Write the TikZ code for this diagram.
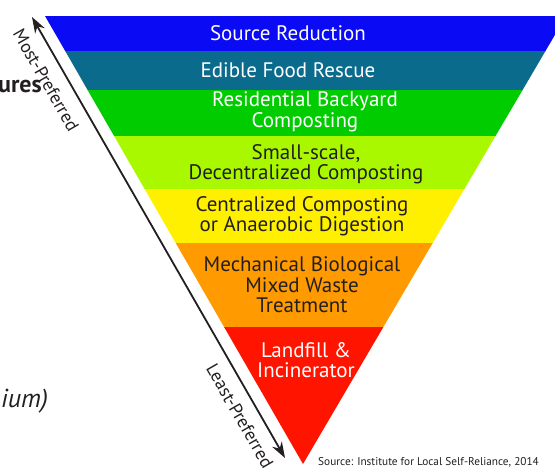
\documentclass[tikz,border=0pt]{standalone}
\usepackage{fontspec}
\setmainfont{PT Sans}
\usetikzlibrary{arrows.meta}
\definecolor{cBlue}{HTML}{0A0AF5}
\definecolor{cTeal}{HTML}{0B6B8C}
\definecolor{cGreen}{HTML}{00CC00}
\definecolor{cLime}{HTML}{AAF800}
\definecolor{cYellow}{HTML}{FFF000}
\definecolor{cOrange}{HTML}{FF9A00}
\definecolor{cRed}{HTML}{FF1400}
\definecolor{cDark}{HTML}{231F20}
\begin{document}
\begin{tikzpicture}[x=1pt,y=-1pt,
  lbl/.style={align=center, font=\fontsize{21}{20.5}\selectfont, inner sep=0pt},
  wlbl/.style={lbl,text=white},
  dlbl/.style={lbl,text=cDark},
  side/.style={font=\fontsize{18}{20}\selectfont, rotate=-60.2, inner sep=0pt, text=cDark},
  arr/.style={draw=cDark, line width=1.8pt, {Stealth[length=16pt,width=11pt]}-{Stealth[length=16pt,width=11pt]}}]
\useasboundingbox (0,0) rectangle (555,467);
\clip (0,0) rectangle (555,467);
% pyramid bands
\fill[cBlue]   (45,16) -- (566,16) -- (545.5,51) -- (65.2,51) -- cycle;
\fill[cTeal]   (65.2,51) -- (545.5,51) -- (522.6,90) -- (87.6,90) -- cycle;
\fill[cGreen]  (87.6,90) -- (522.6,90) -- (495.5,136) -- (114.1,136) -- cycle;
\fill[cLime]   (114.1,136) -- (495.5,136) -- (464.4,189) -- (144.6,189) -- cycle;
\fill[cYellow] (144.6,189) -- (464.4,189) -- (432.7,243) -- (175.7,243) -- cycle;
\fill[cOrange] (175.7,243) -- (432.7,243) -- (383.4,327) -- (224.1,327) -- cycle;
\fill[cRed]    (224.1,327) -- (383.4,327) -- (303,464) -- cycle;
% band labels
\node[wlbl] (src) at (288,33) {Source Reduction};
\node[wlbl] (efr) at (288,70) {Edible Food Rescue};
\node[wlbl] (rbc) at (305,112) {Residential Backyard\\Composting};
\node[dlbl] (ssd) at (306,164) {Small-scale,\\Decentralized Composting};
\node[dlbl] (cca) at (302,216) {Centralized Composting\\or Anaerobic Digestion};
\node[dlbl] (mbm) at (302,285) {Mechanical Biological\\Mixed Waste\\Treatment};
\node[wlbl] (lfi) at (306,360) {Landfill \&\\Incinerator};
% preference arrow
\coordinate (atop) at (32,17);
\coordinate (abot) at (285,458);
\draw[arr] (atop) -- (abot);
\node[side] (most) at (46,80) {Most-Preferred};
\node[side] (least) at (240,416) {Least-Preferred};
% fragments and source
\node[font=\bfseries\fontsize{24}{28}\selectfont, anchor=base east, inner sep=0pt, text=cDark] (ures) at (42,92) {ures};
\node[font=\itshape\fontsize{26}{30}\selectfont, anchor=base west, inner sep=0pt, text=cDark] (ium) at (1,407) {ium)};
\node[font=\fontsize{11.3}{13}\selectfont, anchor=base west, inner sep=0pt, text=cDark] (srcnote) at (318,465) {Source: Institute for Local Self-Reliance, 2014};
\end{tikzpicture}
\end{document}
